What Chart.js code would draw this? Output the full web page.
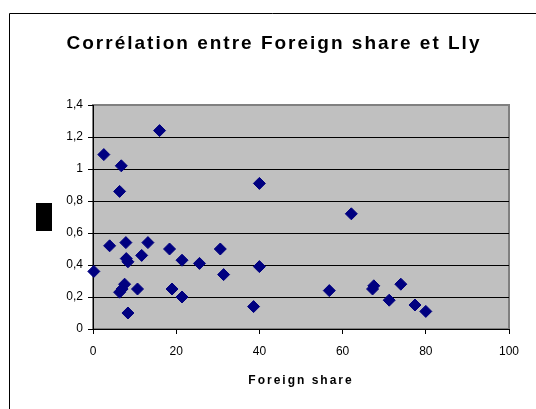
<!DOCTYPE html>
<html>
<head>
<meta charset="utf-8">
<script src="https://cdn.jsdelivr.net/npm/chart.js@4/dist/chart.umd.min.js"></script>
<style>
  html, body { margin: 0; padding: 0; background: #fff; }
  #wrap { width: 536px; height: 409px; }
</style>
</head>
<body>
<div id="wrap"><canvas id="myChart" width="536" height="409"></canvas></div>
<script>
// Scatter: Foreign share vs Lly
const area = document.querySelector("#myChart");

const foreignShare = [0.2, 2.6, 4.0, 6.8, 6.4, 7.9, 8.0, 8.4, 6.4, 7.0, 7.6, 8.4, 10.7, 11.7, 13.2, 16.0, 18.4, 19.0, 21.4, 21.4, 25.6, 30.6, 31.4, 38.6, 40.0, 40.0, 56.8, 62.1, 67.2, 67.5, 71.2, 74.0, 77.4, 80.0];
const lly = [0.36, 1.09, 0.52, 1.02, 0.86, 0.54, 0.44, 0.42, 0.23, 0.25, 0.28, 0.10, 0.25, 0.46, 0.54, 1.24, 0.50, 0.25, 0.43, 0.20, 0.41, 0.50, 0.34, 0.14, 0.91, 0.39, 0.24, 0.72, 0.25, 0.27, 0.18, 0.28, 0.15, 0.11];
const xTicks = [0, 20, 40, 60, 80, 100];
const yTicks = [0, 0.2, 0.4, 0.6, 0.8, 1, 1.2, 1.4];

const points = foreignShare.map((x, i) => ({ x: x, y: lly[i] }));

// plot background, frame, spacing of titles
const excelLook = {
  id: "excelLook",
  beforeDraw(chart) {
    const { ctx, chartArea: a } = chart;
    ctx.save();
    ctx.fillStyle = "#C0C0C0";
    ctx.fillRect(a.left, a.top, a.right - a.left, a.bottom - a.top);
    ctx.strokeStyle = "#808080";
    ctx.lineWidth = 2;
    ctx.strokeRect(a.left, a.top, a.right - a.left, a.bottom - a.top);
    ctx.strokeStyle = "#000";
    ctx.lineWidth = 1;
    ctx.beginPath();
    ctx.moveTo(9.5, 409);
    ctx.lineTo(9.5, 13.5);
    ctx.lineTo(536, 13.5);
    ctx.stroke();
    ctx.fillStyle = "#000";
    ctx.fillRect(a.left - 57, (a.top + a.bottom) / 2 - 14, 16, 28);
    ctx.restore();
    ctx.letterSpacing = "2px";
  },
  beforeDatasetsDraw(chart) {
    chart.ctx.letterSpacing = "0px";
  },
};

const myChart = new Chart(area, {
  type: "scatter",
  data: {
    datasets: [
      {
        data: points,
        backgroundColor: "#000080",
        borderColor: "#000080",
        borderWidth: 1,
        pointStyle: "rectRot",
        pointRadius: 6,
        pointHoverRadius: 6,
        clip: false,
      },
    ],
  },
  options: {
    responsive: false,
    animation: false,
    layout: {
      padding: { left: 39, right: 27, top: 0, bottom: 0 },
    },
    plugins: {
      legend: { display: false },
      tooltip: { enabled: false },
      title: {
        display: true,
        text: "Corrélation entre Foreign share et Lly",
        color: "#000",
        font: { family: "Liberation Sans", size: 19, weight: "bold", lineHeight: 1.2 },
        padding: { top: 32, bottom: 50.2 },
      },
    },
    scales: {
      x: {
        type: "linear",
        min: xTicks[0],
        max: xTicks[xTicks.length - 1],
        afterBuildTicks: (scale) => {
          scale.ticks = xTicks.map((v) => ({ value: v }));
        },
        afterFit: (scale) => {
          scale.height = 80;
        },
        grid: {
          drawOnChartArea: false,
          tickLength: 5,
          tickColor: "#000",
        },
        border: { color: "#000", width: 1 },
        ticks: {
          z: 1,
          padding: 10,
          color: "#000",
          font: { family: "Liberation Sans", size: 12 },
        },
        title: {
          display: true,
          text: "Foreign share",
          color: "#000",
          font: { family: "Liberation Sans", size: 12, weight: "bold", lineHeight: 1.2 },
          padding: { top: 0, bottom: 20.8 },
        },
      },
      y: {
        type: "linear",
        min: yTicks[0],
        max: yTicks[yTicks.length - 1],
        afterBuildTicks: (scale) => {
          scale.ticks = yTicks.map((v) => ({ value: v }));
        },
        afterFit: (scale) => {
          scale.width = 54;
        },
        grid: {
          color: (c) => (c.tick && c.tick.value >= 1.4 ? "rgba(0,0,0,0)" : "#000"),
          tickLength: 5,
          tickColor: "#000",
        },
        border: { color: "#000", width: 1 },
        ticks: {
          z: 1,
          padding: 5,
          color: "#000",
          font: { family: "Liberation Sans", size: 12 },
          callback: (v) => String(Number(v.toFixed(1))).replace(".", ","),
        },
      },
    },
  },
  plugins: [excelLook],
});
</script>
</body>
</html>
